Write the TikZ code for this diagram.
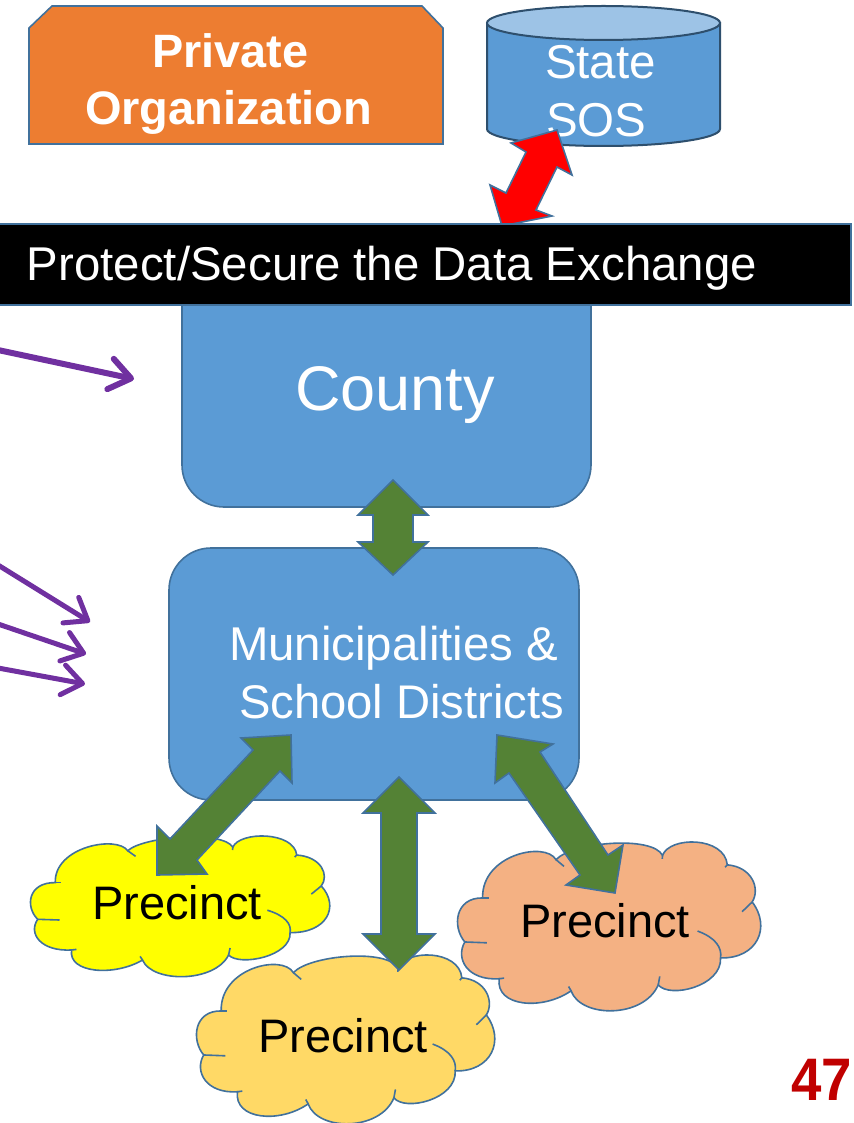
\documentclass[tikz,border=0pt]{standalone}
\usepackage{fontspec}
\usepackage{graphicx}
\setmainfont{Liberation Sans}
\usetikzlibrary{arrows.meta}
\definecolor{edgeblue}{HTML}{41719C}
\definecolor{boxblue}{HTML}{5B9BD5}
\definecolor{topblue}{HTML}{9DC3E6}
\definecolor{orgorange}{HTML}{ED7D31}
\definecolor{darkgreen}{HTML}{548235}
\definecolor{arrowpurple}{HTML}{7030A0}
\definecolor{cloudorange}{HTML}{F4B183}
\definecolor{cloudgold}{HTML}{FFD966}
\definecolor{cloudyellow}{HTML}{FFFF00}
\definecolor{pagered}{HTML}{C00000}
\definecolor{arrowred}{HTML}{FF0000}
\tikzset{
  shapeline/.style={draw=edgeblue,line width=1.6pt,line join=miter},
  blockgreen/.style={shapeline,fill=darkgreen},
  purplearrow/.style={draw=arrowpurple,line width=5pt,-{Straight Barb[length=20pt,width=30pt,line width=5pt,round]}},
  purplethick/.style={draw=arrowpurple,line width=6pt,-{Straight Barb[length=21pt,width=31pt,line width=6pt,round]}},
  lbl/.style={anchor=base west,inner sep=0pt,outer sep=0pt},
  whitelbl/.style={lbl,text=white},
  blacklbl/.style={lbl,text=black},
}
\newcommand{\fsz}[1]{\fontsize{#1pt}{#1pt}\selectfont}
\newcommand{\cloudshape}[5]{%
\begin{scope}[shift={(#1,#2)},xscale=#3/100,yscale=#4/100]
\path[shapeline,fill=#5] (9,33.3) .. controls (8.6,7.6) and (29.3,-0.7) .. (32.9,10.5)
 .. controls (38.3,0) and (64.4,-4) .. (67.6,8)
 .. controls (69.8,-3.5) and (87.8,-3.5) .. (88.7,13.6)
 .. controls (96.8,14.8) and (99.5,27.9) .. (96.8,35.7)
 .. controls (103,50.5) and (98.6,69.5) .. (86.5,69)
 .. controls (87,86) and (69.8,93.3) .. (66.2,85)
 .. controls (61.6,105) and (41,105) .. (37.8,88.6)
 .. controls (28.4,100.5) and (13.1,98) .. (14.4,81.4)
 .. controls (4.1,82.6) and (0,69.5) .. (3.2,59.5)
 .. controls (-1,50.5) and (0,33) .. (9,33.3) -- cycle;
\draw[edgeblue,line width=1.6pt] (32.9,10.5) -- (35.5,14.5);
\draw[edgeblue,line width=1.6pt] (67.6,8) -- (67.5,10);
\draw[edgeblue,line width=1.6pt] (88.7,13.6) -- (88,15);
\draw[edgeblue,line width=1.6pt] (96.8,35.7) -- (93.5,41.5);
\draw[edgeblue,line width=1.6pt] (79,53) .. controls (85,57) and (87,63) .. (86.5,69);
\draw[edgeblue,line width=1.6pt] (66.7,80) -- (66.2,85);
\draw[edgeblue,line width=1.6pt] (37,86) -- (37.8,88.6);
\draw[edgeblue,line width=1.6pt] (14.4,81.4) -- (16,81);
\draw[edgeblue,line width=1.6pt] (10.4,60) -- (3.2,59.5);
\draw[edgeblue,line width=1.6pt] (9,33.3) -- (11,33.3);
\end{scope}}
\begin{document}
\begin{tikzpicture}[x=1pt,y=-1pt]
\useasboundingbox (0,0) rectangle (853,1123);
\clip (0,0) rectangle (853,1123);
% Private organization
\path[shapeline,fill=orgorange] (52,6) -- (422,6) -- (443,28) -- (443,144) -- (29,144) -- (29,28) -- cycle;
\node[whitelbl] (priv) at (152,68) {\fsz{46.8}\bfseries Private};
\node[whitelbl] (org) at (85,125) {\fsz{47}\bfseries Organization};
% State SOS cylinder
\path[draw=edgeblue!70!black,line width=2pt,fill=boxblue] (487,23) -- (487,129) arc[start angle=180,end angle=0,x radius=116.5,y radius=17] -- (720,23) -- cycle;
\path[draw=edgeblue!70!black,line width=2pt,fill=topblue] (603.5,23) ellipse[x radius=116.5,y radius=17];
\node[whitelbl] (state) at (545,79) {\fsz{47.5}State};
\node[whitelbl] (sos) at (546,137) {\fsz{47.5}SOS};
% County and municipalities
\path[shapeline,fill=boxblue,rounded corners=42pt] (182,250) rectangle (591,507);
\path[shapeline,fill=boxblue,rounded corners=42pt] (169,548) rectangle (579,800);
\node[whitelbl] (county) at (295,410) {\fsz{63}County};
\node[whitelbl] (muni) at (229,660) {\fsz{47.4}Municipalities \&};
\node[whitelbl] (school) at (239,718) {\fsz{47.2}School Districts};
% Red arrow and bar
\path[shapeline,fill=arrowred] (557,130) -- (572,175) -- (557,167) -- (536,210) -- (552,216) -- (502,226) -- (490,185) -- (506,193) -- (526,152) -- (511,143) -- cycle;
\path[shapeline,fill=black] (-3,224) rectangle (851,305);
\node[whitelbl] (bar) at (27,280) {\fsz{47.4}Protect/Secure the Data Exchange};
% Green arrow county <-> municipalities
\path[blockgreen] (393,480) -- (428,515) -- (413,515) -- (413,542) -- (428,542) -- (393,575) -- (358,542) -- (373,542) -- (373,515) -- (358,515) -- cycle;
% Purple arrows
\coordinate (p1a) at (-2,350); \coordinate (p1b) at (134,379);
\coordinate (p2a) at (-2,565); \coordinate (p2b) at (90,622);
\coordinate (p3a) at (-2,624); \coordinate (p3b) at (86,654);
\coordinate (p4a) at (-2,668); \coordinate (p4b) at (85,684);
\draw[purplethick] (p1a) -- (p1b);
\draw[purplearrow] (p2a) -- (p2b);
\draw[purplearrow] (p3a) -- (p3b);
\draw[purplearrow] (p4a) -- (p4b);
% Clouds
\cloudshape{455}{842}{307}{168}{cloudorange}
\cloudshape{28}{836}{303}{140}{cloudyellow}
\cloudshape{194}{955}{302}{168}{cloudgold}
% Green arrows to precincts
\path[blockgreen] (291,735) -- (292,783) -- (280,771) -- (197,860) -- (207,874) -- (157,875) -- (157,826) -- (170,839) -- (253,750) -- (241,738) -- cycle;
\path[blockgreen] (399,777) -- (435,813) -- (417,813) -- (417,934) -- (435,934) -- (399,970) -- (363,934) -- (381,934) -- (381,813) -- (363,813) -- cycle;
\path[blockgreen] (497,735) -- (553,744) -- (540,752) -- (608,855) -- (623,845) -- (615,893) -- (566,885) -- (580,875) -- (509,773) -- (495,783) -- cycle;
% Labels in clouds
\node[blacklbl] (pa) at (92,919) {\fsz{47}Precinct};
\node[blacklbl] (pb) at (520,937) {\fsz{47}Precinct};
\node[blacklbl] (pc) at (258,1052) {\fsz{47}Precinct};
\node[lbl,text=pagered] (num) at (791,1100) {\scalebox{0.91}[1]{\fsz{60}\bfseries 47}};
\end{tikzpicture}
\end{document}
